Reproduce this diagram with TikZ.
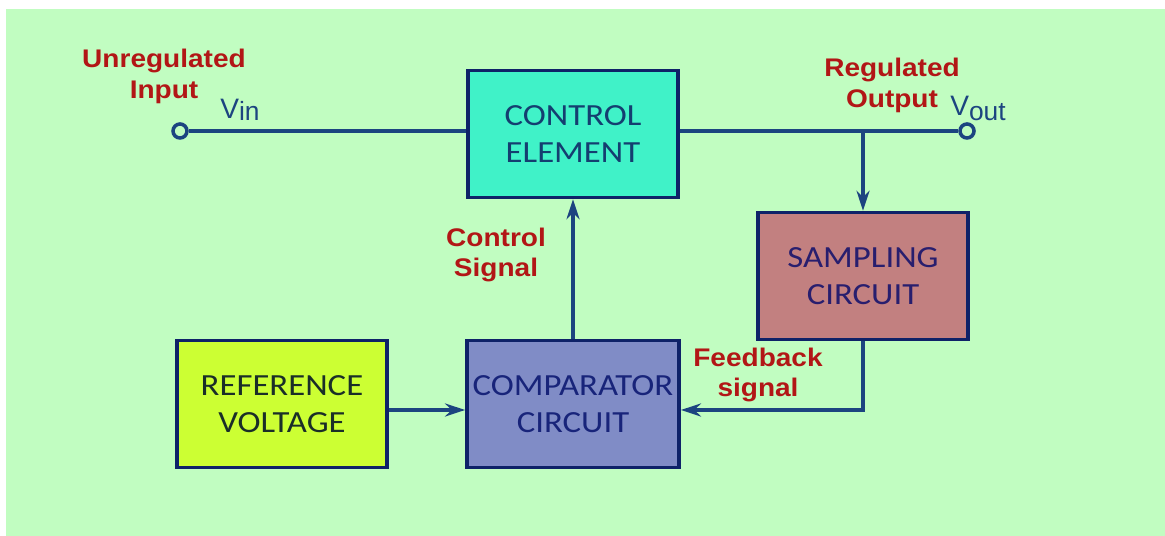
\documentclass[tikz,border=0pt]{standalone}
\usepackage{fontspec}
\setmainfont{Liberation Sans}
\newfontfamily\boxfont[FakeStretch=1.13]{Carlito}
\newfontfamily\redfont[FakeStretch=1.1]{Liberation Sans}
\usepackage{tikz}
\usetikzlibrary{arrows.meta}
\definecolor{bggreen}{RGB}{193, 253, 193}
\definecolor{ctrlfill}{RGB}{64, 242, 200}
\definecolor{sampfill}{RGB}{194, 128, 128}
\definecolor{reffill}{RGB}{204, 255, 51}
\definecolor{compfill}{RGB}{128, 140, 198}
\definecolor{boxedge}{RGB}{14, 34, 104}
\definecolor{wire}{RGB}{28, 68, 128}
\definecolor{labelred}{RGB}{178, 22, 22}
\definecolor{boxtext}{RGB}{24, 36, 122}
\definecolor{reftext}{RGB}{26, 46, 40}

\begin{document}
\begin{tikzpicture}[
    >={Stealth[length=4mm, width=2.6mm]},
    line width=2pt,
    block/.style={draw=boxedge, line width=2pt, minimum width=4.2cm, minimum height=2.54cm,
        align=center, font=\boxfont\fontsize{17.5}{21}\selectfont, text=boxtext},
    terminal/.style={circle, draw=wire, line width=2pt, fill=bggreen, minimum size=0.28cm, inner sep=0pt},
    redlabel/.style={align=center, text=labelred, font=\redfont\bfseries\fontsize{14.5}{17.6}\selectfont},
    vlabel/.style={text=wire, font=\fontsize{16}{18}\selectfont},
]
    \useasboundingbox (0,0) rectangle (23.3,10.72);
    \fill[white] (0,0) rectangle (23.3,10.72);
    \fill[bggreen] (0.12,0) rectangle (23.3,10.54);

    % --- blocks ---
    \node[block, fill=ctrlfill, text={rgb,255:red,20;green,62;blue,112}] (ctrl) at (11.46, 8.04) {CONTROL\\ELEMENT};
    \node[block, fill=sampfill, text={rgb,255:red,40;green,30;blue,110}] (samp) at (17.26, 5.2) {SAMPLING\\CIRCUIT};
    \node[block, fill=reffill, text=reftext] (ref) at (5.64, 2.64) {REFERENCE\\VOLTAGE};
    \node[block, fill=compfill] (comp) at (11.46, 2.64) {COMPARATOR\\CIRCUIT};

    % --- terminals ---
    \node[terminal] (vin) at (3.6, 8.1) {};
    \node[terminal] (vout) at (19.34, 8.1) {};
    \coordinate (tap) at (samp |- vout);

    % --- wires ---
    \draw[wire] (vin) -- (vin -| ctrl.west);
    \draw[wire] (vout -| ctrl.east) -- (vout);
    \draw[wire, ->] (tap) -- (samp);
    \draw[wire, ->] (samp) |- ([yshift=-0.12cm]comp.east);
    \draw[wire, ->] ([yshift=-0.12cm]ref.east) -- ([yshift=-0.12cm]comp.west);
    \draw[wire, ->] (comp) -- (ctrl);

    % --- labels ---
    \node[redlabel] (unreg) at (3.28, 9.2) {Unregulated\\Input};
    \node[vlabel] (vinlab) at (4.8, 8.52) {V\raisebox{-1.5pt}{\fontsize{15}{15}\selectfont in}};
    \node[redlabel] (reg) at (17.84, 9.01) {Regulated\\Output};
    \node[vlabel] (voutlab) at (19.56, 8.55) {V\raisebox{-2.5pt}{\fontsize{15}{15}\selectfont out}};
    \node[redlabel] (ctrlsig) at (9.92, 5.62) {Control\\Signal};
    \node[redlabel] (fbsig) at (15.16, 3.22) {Feedback\\signal};
\end{tikzpicture}
\end{document}
